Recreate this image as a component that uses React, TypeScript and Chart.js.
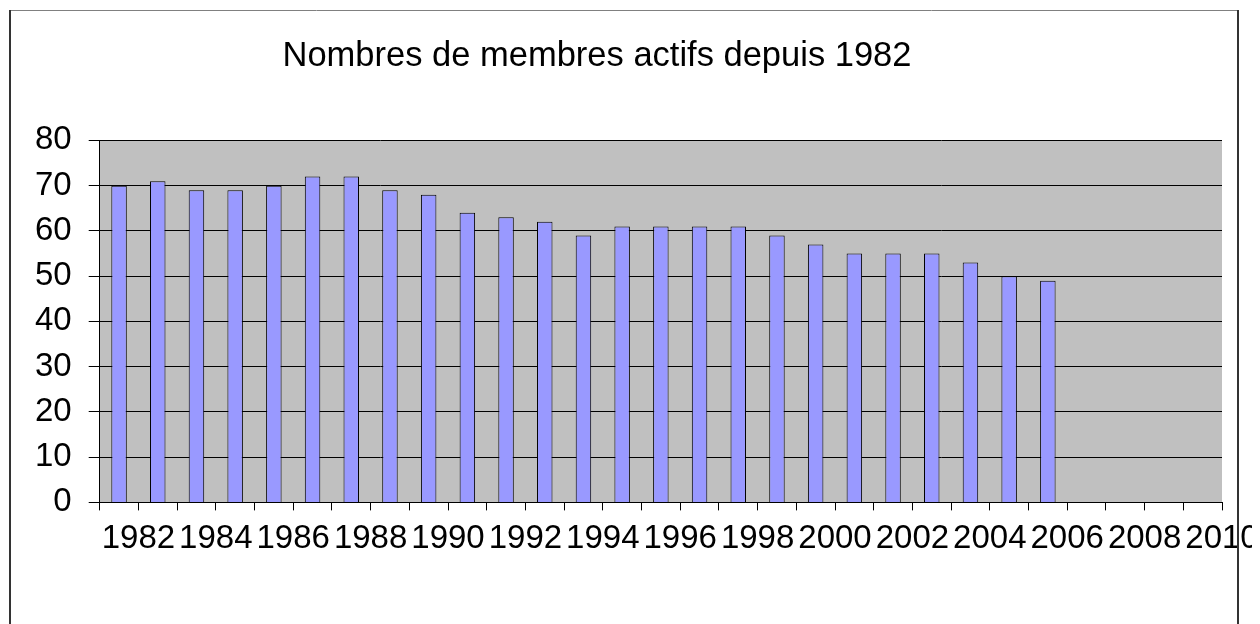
import React, { useEffect, useRef } from "react";
import { Chart, registerables } from "chart.js";

Chart.register(...registerables);

const years: string[] = [
  "1982", "1983", "1984", "1985", "1986", "1987", "1988", "1989", "1990", "1991",
  "1992", "1993", "1994", "1995", "1996", "1997", "1998", "1999", "2000", "2001",
  "2002", "2003", "2004", "2005", "2006", "2007", "2008", "2009", "2010",
];
const members: (number | null)[] = [
  70, 71, 69, 69, 70, 72, 72, 69, 68, 64,
  63, 62, 59, 61, 61, 61, 61, 59, 57, 55,
  55, 55, 53, 50, 49, null, null, null, null,
];
const titleText = "Nombres de membres actifs depuis 1982";
const FONT = "'Liberation Sans', Arial, Helvetica, sans-serif";

const frame = {
  id: "frame",
  afterLayout(chart: any) {
    const tb = chart.titleBlock;
    if (tb) {
      tb.right -= 46;
      tb.width = tb.right - tb.left;
    }
  },
  beforeDraw(chart: any) {
    const { ctx, chartArea } = chart;
    ctx.save();
    ctx.fillStyle = "#ffffff";
    ctx.fillRect(0, 0, chart.width, chart.height);
    ctx.fillStyle = "#C0C0C0";
    ctx.fillRect(chartArea.left, chartArea.top, chartArea.right - chartArea.left, chartArea.bottom - chartArea.top);
    ctx.restore();
  },
  afterDraw(chart: any) {
    const { ctx } = chart;
    ctx.save();
    ctx.strokeStyle = "#808080";
    ctx.lineWidth = 1;
    ctx.beginPath();
    ctx.moveTo(1, 2.5);
    ctx.lineTo(1231, 2.5);
    ctx.stroke();
    ctx.strokeStyle = "#333333";
    ctx.lineWidth = 2;
    ctx.beginPath();
    ctx.moveTo(2, 2);
    ctx.lineTo(2, chart.height + 5);
    ctx.moveTo(1230, 2);
    ctx.lineTo(1230, chart.height + 5);
    ctx.stroke();
    ctx.restore();
  },
};

export default function App() {
  const ref = useRef<HTMLCanvasElement>(null);
  useEffect(() => {
    if (!ref.current) return;
    const chart = new Chart(ref.current, {
      type: "bar",
      data: {
        labels: years,
        datasets: [
          {
            label: "Membres actifs",
            data: members,
            backgroundColor: "#9999FF",
            borderColor: "#000000",
            borderWidth: 1,
            barPercentage: 0.4,
            categoryPercentage: 1,
          },
        ],
      },
      options: {
        responsive: false,
        animation: false,
        devicePixelRatio: 1,
        layout: { padding: { left: 10, right: 36, top: 5, bottom: 56 } },
        plugins: {
          legend: { display: false },
          tooltip: { enabled: false },
          title: {
            display: true,
            text: titleText,
            color: "#000000",
            font: { family: FONT, size: 34.5, weight: "normal" },
            padding: { top: 23, bottom: 63 },
          },
        },
        scales: {
          x: {
            offset: true,
            grid: {
              display: true,
              offset: true,
              drawOnChartArea: false,
              drawTicks: true,
              tickLength: 8,
              color: "#000000",
            },
            border: { display: true, color: "#000000" },
            ticks: {
              autoSkip: false,
              maxRotation: 0,
              minRotation: 0,
              padding: 9,
              labelOffset: 19.35,
              color: "#000000",
              font: { family: FONT, size: 33 },
              callback: (_v: any, i: number) => (i % 2 === 0 ? years[i] : ""),
            },
          },
          y: {
            min: 0,
            max: 80,
            grid: {
              color: "#000000",
              drawTicks: true,
              tickLength: 11,
            },
            border: { display: true, color: "#000000" },
            ticks: {
              stepSize: 10,
              padding: 17,
              color: "#000000",
              font: { family: FONT, size: 33 },
            },
          },
        },
      },
      plugins: [frame],
    });
    return () => chart.destroy();
  }, []);
  return <canvas ref={ref} width={1250} height={616} style={{ display: "block" }} />;
}
